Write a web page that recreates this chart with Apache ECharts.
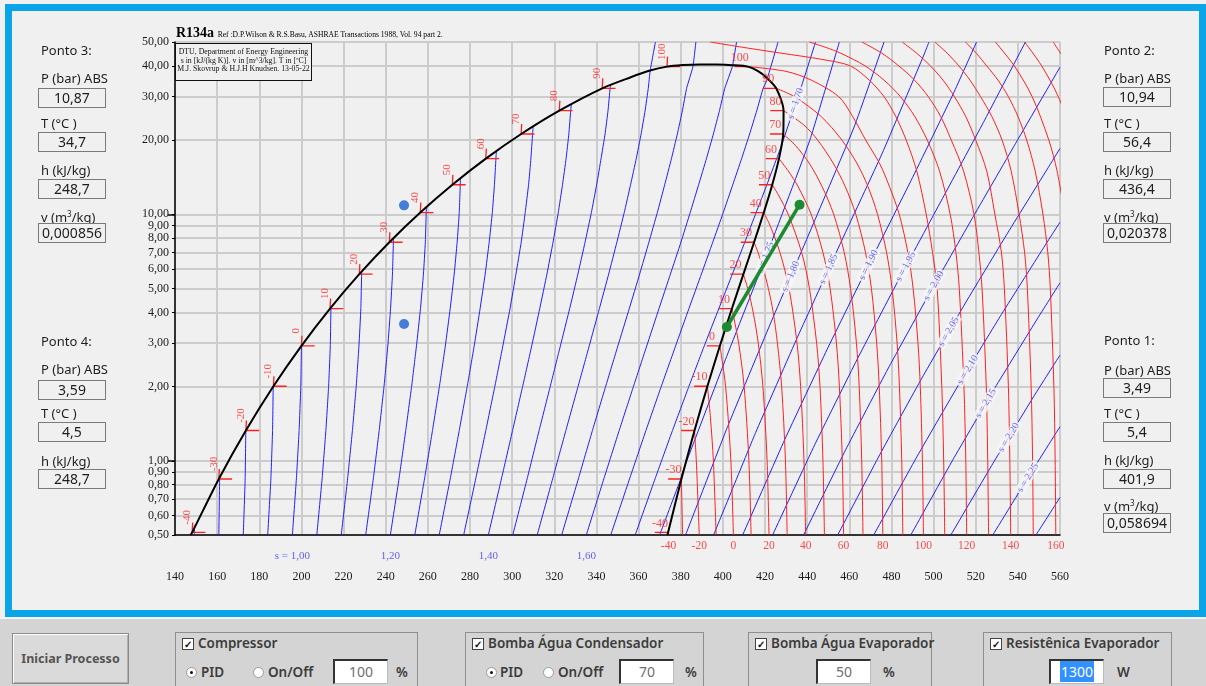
<!DOCTYPE html>
<html>
<head>
<meta charset="utf-8">
<title>R134a</title>
<script src="https://cdn.jsdelivr.net/npm/echarts@6.0.0/dist/echarts.min.js"></script>
<style>
html,body{margin:0;padding:0;}
body{width:1206px;height:686px;background:#f0f0f0;position:relative;overflow:hidden;font-family:"Noto Sans",sans-serif;color:#1e1e1e;}
#frame{position:absolute;left:5px;top:4px;width:1187px;height:599px;border:7px solid #0aa4e8;z-index:0;}
#chart{position:absolute;left:0;top:0;width:1206px;height:686px;z-index:1;}
.ov{position:absolute;z-index:3;white-space:nowrap;}
.lbl{position:absolute;z-index:3;font-size:13px;line-height:16px;white-space:nowrap;}
.box{position:absolute;z-index:3;width:66px;height:18px;border:1px solid #7a7a7a;text-align:center;font-size:14px;line-height:18px;background:#f0f0f0;}
sup{font-size:8px;vertical-align:5px;line-height:0;}
#bottom{position:absolute;left:0;top:618px;width:1206px;height:68px;background:#d4d4d4;border-top:1px solid #f6f6f6;z-index:3;}
.btn{position:absolute;left:12px;top:14px;width:115px;height:49px;border:1px solid #8a8a8a;box-shadow:inset 1px 1px 0 #fdfdfd, inset -1px -1px 0 #b0b0b0;background:#dadada;font-weight:700;font-size:12.5px;color:#555;text-align:center;line-height:49px;}
.grp{position:absolute;top:13px;height:60px;border:1px solid #8e8e8e;}
.t{position:absolute;font-weight:600;font-size:13.5px;color:#3c3c3c;line-height:16px;white-space:nowrap;}
.chk{position:absolute;width:10px;height:10px;border:1px solid #444;background:#fff;font-size:10px;line-height:10px;text-align:center;font-weight:700;color:#111;}
.rad{position:absolute;width:9px;height:9px;border:1px solid #9a9a9a;border-radius:50%;background:#fff;}
.rad.on::after{content:"";position:absolute;left:3px;top:3px;width:3px;height:3px;border-radius:50%;background:#111;}
.inp{position:absolute;height:22px;background:#fff;border-top:2px solid #333;border-left:2px solid #333;border-right:1px solid #bbb;border-bottom:1px solid #bbb;font-size:14px;line-height:22px;text-align:center;color:#707070;}
</style>
</head>
<body>
<div id="frame"></div>
<div id="chart"></div>

<div class="ov" style="left:176px;top:25px;font-family:'Liberation Serif',serif;font-weight:bold;font-size:14px;line-height:16px;color:#000;">R134a <span style="font-weight:normal;font-size:7.6px;">Ref :D.P.Wilson &amp; R.S.Basu, ASHRAE Transactions 1988, Vol. 94 part 2.</span></div>
<div class="ov" style="left:175px;top:43px;width:135px;height:32px;border:1.5px solid #111;background:#f0f0f0;font-family:'Liberation Serif',serif;font-size:7.8px;line-height:8.7px;text-align:center;padding-top:4px;color:#111;">DTU, Department of Energy Engineering<br>s in [kJ/(kg K)]. v in [m^3/kg]. T in [ºC]<br>M.J. Skovrup &amp; H.J.H Knudsen. 13-05-22</div>

<!-- Ponto 3 -->
<div class="lbl" style="left:41px;top:42px;">Ponto 3:</div>
<div class="lbl" style="left:41px;top:70px;">P (bar) ABS</div>
<div class="box" style="left:38px;top:88px;">10,87</div>
<div class="lbl" style="left:41px;top:115px;">T (°C )</div>
<div class="box" style="left:38px;top:132px;">34,7</div>
<div class="lbl" style="left:41px;top:162px;">h (kJ/kg)</div>
<div class="box" style="left:38px;top:179px;">248,7</div>
<div class="lbl" style="left:41px;top:209px;">v (m<sup>3</sup>/kg)</div>
<div class="box" style="left:38px;top:223px;">0,000856</div>
<!-- Ponto 4 -->
<div class="lbl" style="left:41px;top:333px;">Ponto 4:</div>
<div class="lbl" style="left:41px;top:361px;">P (bar) ABS</div>
<div class="box" style="left:38px;top:380px;">3,59</div>
<div class="lbl" style="left:41px;top:405px;">T (°C )</div>
<div class="box" style="left:38px;top:422px;">4,5</div>
<div class="lbl" style="left:41px;top:453px;">h (kJ/kg)</div>
<div class="box" style="left:38px;top:469px;">248,7</div>
<!-- Ponto 2 -->
<div class="lbl" style="left:1104px;top:42px;">Ponto 2:</div>
<div class="lbl" style="left:1104px;top:70px;">P (bar) ABS</div>
<div class="box" style="left:1103px;top:87px;">10,94</div>
<div class="lbl" style="left:1104px;top:115px;">T (°C )</div>
<div class="box" style="left:1103px;top:132px;">56,4</div>
<div class="lbl" style="left:1104px;top:162px;">h (kJ/kg)</div>
<div class="box" style="left:1103px;top:179px;">436,4</div>
<div class="lbl" style="left:1104px;top:209px;">v (m<sup>3</sup>/kg)</div>
<div class="box" style="left:1103px;top:223px;">0,020378</div>
<!-- Ponto 1 -->
<div class="lbl" style="left:1104px;top:332px;">Ponto 1:</div>
<div class="lbl" style="left:1104px;top:362px;">P (bar) ABS</div>
<div class="box" style="left:1103px;top:378px;">3,49</div>
<div class="lbl" style="left:1104px;top:405px;">T (°C )</div>
<div class="box" style="left:1103px;top:422px;">5,4</div>
<div class="lbl" style="left:1104px;top:452px;">h (kJ/kg)</div>
<div class="box" style="left:1103px;top:469px;">401,9</div>
<div class="lbl" style="left:1104px;top:498px;">v (m<sup>3</sup>/kg)</div>
<div class="box" style="left:1103px;top:513px;">0,058694</div>

<div id="bottom">
  <div class="btn">Iniciar Processo</div>
  <div class="grp" style="left:175px;width:241px;">
    <div class="chk" style="left:6px;top:5px;">✓</div>
    <div class="t" style="left:22px;top:2px;">Compressor</div>
    <div class="rad on" style="left:10px;top:34px;"></div>
    <div class="t" style="left:25px;top:31px;">PID</div>
    <div class="rad" style="left:77px;top:34px;"></div>
    <div class="t" style="left:92px;top:31px;">On/Off</div>
    <div class="inp" style="left:157px;top:26px;width:52px;">100</div>
    <div class="t" style="left:220px;top:31px;">%</div>
  </div>
  <div class="grp" style="left:465px;width:237px;">
    <div class="chk" style="left:6px;top:5px;">✓</div>
    <div class="t" style="left:22px;top:2px;">Bomba Água Condensador</div>
    <div class="rad on" style="left:20px;top:34px;"></div>
    <div class="t" style="left:34px;top:31px;">PID</div>
    <div class="rad" style="left:77px;top:34px;"></div>
    <div class="t" style="left:92px;top:31px;">On/Off</div>
    <div class="inp" style="left:153px;top:26px;width:52px;">70</div>
    <div class="t" style="left:219px;top:31px;">%</div>
  </div>
  <div class="grp" style="left:748px;width:182px;">
    <div class="chk" style="left:6px;top:5px;">✓</div>
    <div class="t" style="left:22px;top:2px;">Bomba Água Evaporador</div>
    <div class="inp" style="left:67px;top:26px;width:52px;">50</div>
    <div class="t" style="left:134px;top:31px;">%</div>
  </div>
  <div class="grp" style="left:983px;width:187px;">
    <div class="chk" style="left:6px;top:5px;">✓</div>
    <div class="t" style="left:22px;top:2px;">Resistênica Evaporador</div>
    <div class="inp" style="left:65px;top:26px;width:52px;color:#fff;"><span style="background:#3390ff;padding:1px 1px;">1300</span></div>
    <div class="t" style="left:133px;top:31px;">W</div>
  </div>
</div>

<script>
// ===================== DATA =====================
// axis ticks
const hMin = 140, hMax = 560, hStep = 20;
const pTicks = [0.5, 0.6, 0.7, 0.8, 0.9, 1, 2, 3, 4, 5, 6, 7, 8, 9, 10, 20, 30, 40, 50];
const pLongTicks = [1, 10];

// saturation table (T in °C, P in bar, h in kJ/kg)
const satT  = [-40, -30, -20, -10, 0, 10, 20, 30, 40, 50, 60, 70, 80, 90, 100];
const satP  = [0.5121, 0.8438, 1.3273, 2.006, 2.928, 4.1461, 5.7171, 7.702, 10.166, 13.179, 16.818, 21.168, 26.332, 32.442, 39.724];
const satHf = [148.14, 160.79, 173.64, 186.70, 200.00, 213.58, 227.47, 241.72, 256.41, 271.62, 287.50, 304.28, 322.39, 342.75, 373.5];
const satHg = [374.00, 380.32, 386.55, 392.66, 398.60, 404.32, 409.75, 414.82, 419.43, 423.44, 426.63, 428.65, 428.81, 425.32, 411.83];

// saturation dome (liquid side up to the critical point, then vapour side down)
const domeH = [147.3, 148.14, 160.79, 173.64, 186.70, 200.00, 213.58, 227.47, 241.72, 256.41, 271.62, 287.50, 304.28, 322.39, 342.75, 356.0, 365.0, 373.5, 381.0, 389.0,
               397.0, 404.5, 411.83, 416.5, 420.5, 425.32, 428.81, 428.65, 426.63, 423.44, 419.43, 414.82, 409.75, 404.32, 398.60, 392.66, 386.55, 380.32, 374.00, 373.7];
const domeP = [0.5, 0.5121, 0.8438, 1.3273, 2.006, 2.928, 4.1461, 5.7171, 7.702, 10.166, 13.179, 16.818, 21.168, 26.332, 32.442, 35.9, 38.2, 39.724, 40.3, 40.55,
               40.5, 40.25, 39.724, 38.2, 36.0, 32.442, 26.332, 21.168, 16.818, 13.179, 10.166, 7.702, 5.7171, 4.1461, 2.928, 2.006, 1.3273, 0.8438, 0.5121, 0.5];

// isotherms in the superheated / supercritical region: [h, P]
const isoT = [-40, -30, -20, -10, 0, 10, 20, 30, 40, 50, 60, 70, 80, 90, 100, 110, 120, 130, 140, 150, 160, 170, 180, 190];
const isoCurves = [
  [[374.2,0.5],[374.0,0.5121]],
  [[380.9,0.5],[380.32,0.8438]],
  [[388.8,0.5],[387.4,1],[386.55,1.3273]],
  [[396.8,0.5],[395.5,1],[394.1,1.5],[392.66,2.006]],
  [[405.0,0.5],[403.8,1],[401.3,2],[398.6,2.928]],
  [[413.4,0.5],[412.35,1],[410.1,2],[407.5,3],[404.7,4],[404.32,4.1461]],
  [[421.9,0.5],[421.0,1],[419.0,2],[416.8,3],[414.4,4],[411.8,5],[409.75,5.7171]],
  [[430.5,0.5],[429.7,1],[427.9,2],[425.9,3],[423.9,4],[421.6,5],[419.2,6],[416.7,7],[414.82,7.702]],
  [[439.3,0.5],[438.5,1],[436.9,2],[435.2,3],[431.4,5],[427.1,7],[422.4,9],[419.43,10.166]],
  [[448.2,0.5],[447.5,1],[446.1,2],[444.5,3],[441.1,5],[437.4,7],[431.0,10],[426.3,12],[423.44,13.179]],
  [[457.3,0.5],[456.7,1],[455.3,2],[453.9,3],[450.9,5],[447.5,7],[441.9,10],[435.6,13],[431.0,15],[426.63,16.818]],
  [[466.5,0.5],[465.9,1],[464.7,2],[463.4,3],[460.6,5],[457.6,7],[452.6,10],[447.0,13],[441.2,16],[434.5,19],[428.65,21.168]],
  [[475.9,0.5],[475.4,1],[474.2,2],[473.0,3],[470.5,5],[467.7,7],[463.1,10],[458.0,13],[452.6,16],[445.0,20],[438.5,23],[428.81,26.332]],
  [[485.4,0.5],[484.9,1],[483.8,2],[482.7,3],[480.3,5],[477.7,7],[473.4,10],[468.8,13],[463.8,16],[456.5,20],[446.5,25],[434,30],[425.32,32.442]],
  [[495.2,0.5],[494.7,1],[493.7,2],[492.6,3],[490.3,5],[487.8,7],[483.7,10],[479,13],[474.5,16],[467.8,20],[461.5,25],[455,30],[442,35],[430,38],[411.83,39.724]],
  [[505.3,0.5],[504.8,1],[503.9,2],[501.7,5],[499.5,7],[496.5,10],[492,15],[487,20],[482,25],[476.5,30],[469.5,35],[460.5,40],[447,42.5],[428,45],[410,47.5],[394,50]],
  [[515.7,0.5],[515.3,1],[514.4,2],[512.2,5],[510.6,7],[507.9,10],[502.8,15],[497.0,20],[491,25],[484.3,30],[476.5,35],[467.5,40],[456,45],[449,47.5],[441,50]],
  [[526.1,0.5],[525.7,1],[525,2],[523,5],[521.5,7],[519.2,10],[514.2,15],[508.4,20],[503.3,25],[497.5,30],[491,35],[483.5,40],[475.5,45],[466,50]],
  [[536.6,0.5],[536.2,1],[535.5,2],[533.6,5],[532.2,7],[529.1,10],[525.2,15],[520.0,20],[515.2,25],[509.9,30],[504.5,35],[498.5,40],[492.0,45],[485.1,50]],
  [[547.3,0.5],[547,1],[546.3,2],[544.5,5],[543.2,7],[540.6,10],[536.8,15],[532.5,20],[527.6,25],[522.3,30],[517.3,35],[512.0,40],[506.5,45],[500.6,50]],
  [[558.0,0.5],[557.7,1],[557.1,2],[555.4,5],[554.2,7],[551.9,10],[548.2,15],[544.2,20],[540.0,25],[535.5,30],[530.6,35],[525.2,40],[520.3,45],[515.1,50]],
  [[562.2,10],[558.6,15],[554.7,20],[546.8,30],[538.3,40],[529.3,50]],
  [[567.0,20],[559.2,30],[551.3,40],[543.2,50]],
  [[565.0,40],[560.3,45],[556.8,50]]
];

// isentropes s [kJ/(kg K)]: [h, P]
const isenS = [0.80, 0.85, 0.90, 0.95, 1.00, 1.05, 1.10, 1.15, 1.20, 1.25, 1.30, 1.35, 1.40, 1.45, 1.50, 1.55, 1.60, 1.65, 1.70, 1.75,
               1.80, 1.85, 1.90, 1.95, 2.00, 2.05, 2.10, 2.15, 2.20, 2.25, 2.30];
const isenLines = [
  [[149.2,0.5],[149.2,0.549]],
  [[160.8,0.5],[161.2,0.858]],
  [[172.4,0.5],[173.3,0.8438],[173.6,1.3273]],
  [[184.0,0.5],[185.5,0.8438],[186.3,1.3273],[186.6,2.0]],
  [[195.7,0.5],[197.6,0.8438],[198.9,1.3273],[199.7,2.006],[200.0,2.928]],
  [[207.3,0.5],[209.8,0.8438],[211.6,1.3273],[212.9,2.006],[213.7,2.928],[214.0,4.17]],
  [[218.9,0.5],[221.9,0.8438],[224.2,1.3273],[226.0,2.006],[227.3,2.928],[228.2,4.146],[228.6,5.87]],
  [[230.5,0.5],[234.1,0.8438],[236.9,1.3273],[239.2,2.006],[241.0,2.928],[242.3,4.146],[243.2,5.717],[243.7,8.03]],
  [[242.2,0.5],[246.3,0.8438],[249.5,1.3273],[252.3,2.006],[254.6,2.928],[256.5,4.146],[257.9,5.717],[258.8,7.702],[259.3,10.75]],
  [[253.8,0.5],[258.4,0.8438],[262.2,1.3273],[265.5,2.006],[268.3,2.928],[270.6,4.146],[272.5,5.717],[273.9,7.702],[274.9,10.166],[275.5,14.07]],
  [[265.4,0.5],[270.6,0.8438],[274.9,1.3273],[278.7,2.006],[282.0,2.928],[284.8,4.146],[287.2,5.717],[289.1,7.702],[290.6,10.166],[291.6,13.179],[292.3,16.818],[292.5,18.1]],
  [[277.0,0.5],[282.7,0.8438],[287.5,1.3273],[291.8,2.006],[295.6,2.928],[299.0,4.146],[301.8,5.717],[304.3,7.702],[306.2,10.166],[307.8,13.179],[308.9,16.818],[309.7,21.168],[310.0,22.79]],
  [[288.7,0.5],[294.9,0.8438],[300.2,1.3273],[305.0,2.006],[309.3,2.928],[313.1,4.146],[316.5,5.717],[319.4,7.702],[321.9,10.166],[323.9,13.179],[325.6,16.818],[326.9,21.168],[327.8,26.332],[328.1,28.03]],
  [[300.3,0.5],[307.1,0.8438],[312.8,1.3273],[318.1,2.006],[322.9,2.928],[327.3,4.146],[331.2,5.717],[334.6,7.702],[337.6,10.166],[340.1,13.179],[342.2,16.818],[344.1,21.168],[345.5,26.332],[346.5,32.442],[346.8,33.58]],
  [[311.9,0.5],[319.2,0.8438],[325.5,1.3273],[331.3,2.006],[336.6,2.928],[341.4,4.146],[345.8,5.717],[349.7,7.702],[353.2,10.166],[356.2,13.179],[358.9,16.818],[361.2,21.168],[363.1,26.332],[364.6,32.442],[365.5,38.2],[368.0,50]],
  [[323.5,0.5],[331.4,0.8438],[338.1,1.3273],[344.4,2.006],[350.2,2.928],[355.6,4.146],[360.5,5.717],[364.9,7.702],[368.9,10.166],[372.4,13.179],[375.6,16.818],[378.4,21.168],[380.8,26.332],[382.8,32.442],[385.8,39.724],[387.2,50]],
  [[335.2,0.5],[343.5,0.8438],[350.8,1.3273],[357.6,2.006],[363.9,2.928],[369.7,4.146],[375.1,5.717],[380.1,7.702],[384.5,10.166],[388.5,13.179],[392.2,16.818],[395.5,21.168],[398.4,26.332],[400.9,32.442],[404.5,39.724],[406.5,50]],
  [[346.8,0.5],[355.7,0.8438],[363.5,1.3273],[370.8,2.006],[377.6,2.928],[383.9,4.146],[389.8,5.717],[395.2,7.702],[400.2,10.166],[404.7,13.179],[408.9,16.818],[412.7,21.168],[416.1,26.332],[419.1,32.442],[420.8,34.87],[426.2,50]],
  [[358.4,0.5],[367.8,0.8438],[376.1,1.3273],[383.9,2.006],[391.2,2.928],[398.1,4.146],[404.5,5.717],[410.4,7.702],[415.8,10.166],[420.9,13.179],[425.5,16.818],[427.5,18.69],[437.5,33.5],[444.0,50]],
  [[370.0,0.5],[380.0,0.8438],[381.2,0.915],[401.2,2.57],[421.2,7.0],[441.2,19.9],[455.3,50]],
  [[382.3,0.5],[402.3,1.379],[422.3,3.558],[442.3,8.89],[462.3,22.6],[476.5,50]],
  [[395.6,0.5],[415.6,1.304],[435.6,3.20],[455.6,7.56],[475.6,17.66],[495.6,44.7],[497.8,50]],
  [[409.4,0.5],[429.4,1.221],[449.4,2.822],[469.4,6.283],[489.4,13.75],[509.4,30.9],[520.4,50]],
  [[423.6,0.5],[443.6,1.162],[463.6,2.567],[483.6,5.46],[503.6,11.33],[523.6,23.54],[543.6,50]],
  [[438.3,0.5],[458.3,1.11],[478.3,2.357],[498.3,4.82],[518.3,9.61],[538.3,18.98],[560,39.5]],
  [[454.5,0.5],[474.5,1.06],[494.5,2.169],[514.5,4.279],[534.5,8.22],[554.5,15.52],[560,18.5]],
  [[471.6,0.5],[491.6,1.021],[511.6,2.015],[531.6,3.851],[551.6,7.18],[560,9.29]],
  [[489.2,0.5],[509.2,1.011],[529.2,1.982],[549.2,3.762],[560,5.27]],
  [[508.2,0.5],[528.2,0.977],[548.2,1.863],[560,2.684]],
  [[528.1,0.5],[548.1,0.949],[560,1.375]],
  [[548.6,0.5],[560,0.710]]
];

// inline entropy labels (s value, h where label sits on its line)
const shLabelS = [1.70, 1.75, 1.80, 1.85, 1.90, 1.95, 2.00, 2.05, 2.10, 2.15, 2.20, 2.25];
const shLabelH = [434.5, 420.3, 432.2, 450.2, 469.2, 486.8, 500.1, 507.2, 516.2, 524.8, 535.7, 544.8];
// entropy labels written under the axis
const bottomLabelS = [1.00, 1.20, 1.40, 1.60];

// cycle points [h, P]
const ponto1 = [401.9, 3.49];
const ponto2 = [436.4, 10.94];
const ponto3 = [248.7, 10.87];
const ponto4 = [248.7, 3.59];

// ===================== CHART =====================
const SERIF = "'Liberation Serif', 'Times New Roman', serif";
const RED = '#ff2020', BLUE = '#1f1fff', LBLUE = '#4a4ae6';
const lg = Math.log10;
const fmtP = v => Math.pow(10, v).toFixed(2).replace('.', ',');
const fmtS = s => s.toFixed(2).replace('.', ',');
const toXY = pts => pts.map(p => [p[0], lg(p[1])]);
const rotOff = (gx, gy, deg) => { const r = deg * Math.PI / 180; return [gx * Math.cos(r) - gy * Math.sin(r), gx * Math.sin(r) + gy * Math.cos(r)]; };

const series = [];
function addLine(pts, color, width, smooth, z) {
  series.push({ type: 'line', data: toXY(pts), showSymbol: false, symbol: 'none', smooth: smooth,
    lineStyle: { color: color, width: width }, silent: true, z: z, animation: false, clip: true });
}
function addLabels(items, z, id) {
  const s = { type: 'scatter', data: items, symbolSize: 1, itemStyle: { color: 'rgba(0,0,0,0)' },
    silent: true, clip: false, z: z, animation: false };
  if (id) s.id = id;
  series.push(s);
}
function lbl(h, P, text, opt) {
  return { value: [h, lg(P)], label: Object.assign({ show: true, formatter: text, position: 'inside', fontFamily: SERIF }, opt) };
}

// isentropes
isenLines.forEach(l => addLine(l, BLUE, 1, 0.12, 2));
// superheated isotherms
isoCurves.forEach(c => addLine(c, RED, 1, 0.3, 3));
// two-phase isotherm marks at the saturation lines
satT.forEach((t, i) => {
  addLine([[satHf[i] + 0.25, satP[i] * 1.098], [satHf[i], satP[i]], [satHf[i] + 6.3, satP[i]]], RED, 1.3, false, 4);
  addLine([[satHg[i] - 6.3, satP[i]], [satHg[i], satP[i]]], RED, 1.3, false, 4);
});
// saturation dome
const dome = domeH.map((h, i) => [h, domeP[i]]);
addLine(dome, '#000', 2, 0.25, 6);

// isotherm labels
const liqLab = [], vapLab = [], botT = [];
satT.forEach((t, i) => {
  liqLab.push(lbl(satHf[i], satP[i], String(t), { rotate: 90, offset: rotOff(-5, -15, 90), color: RED, fontSize: 11 }));
  vapLab.push(lbl(satHg[i], satP[i], String(t), { offset: [-8, -9], color: RED, fontSize: 12 }));
});
isoT.forEach((t, i) => {
  const p0 = isoCurves[i][0];
  if (t % 20 === 0 && p0[1] === 0.5) botT.push(lbl(p0[0], p0[1], String(t), { offset: [0, 11], color: RED, fontSize: 11.5 }));
});
addLabels(liqLab, 8); addLabels(vapLab, 8); addLabels(botT, 8);

// entropy labels under the axis
const botS = bottomLabelS.map((s, k) => {
  const l = isenLines[isenS.findIndex(v => Math.abs(v - s) < 1e-6)];
  return lbl(l[0][0], l[0][1], (k === 0 ? 's = ' : '') + fmtS(s), { offset: [0, 21], color: '#3b3bff', fontSize: 11 });
});
addLabels(botS, 8);

// inline superheated entropy labels (rotation fixed after first layout)
function onLine(s, h) {
  const pts = toXY(isenLines[isenS.findIndex(v => Math.abs(v - s) < 1e-6)]);
  for (let i = 0; i < pts.length - 1; i++) {
    const a = pts[i], b = pts[i + 1];
    if ((h - a[0]) * (h - b[0]) <= 0) { const t = (h - a[0]) / (b[0] - a[0]); return { y: a[1] + t * (b[1] - a[1]), a: a, b: b }; }
  }
  return { y: pts[pts.length - 1][1], a: pts[pts.length - 2], b: pts[pts.length - 1] };
}
function shItems(rot) {
  return shLabelS.map((s, k) => {
    const o = onLine(s, shLabelH[k]);
    return { value: [shLabelH[k], o.y], label: { show: true, position: 'inside', formatter: 's = ' + fmtS(s), rotate: rot ? rot[k] : 62,
      color: LBLUE, fontSize: 10, fontFamily: SERIF, backgroundColor: '#f6f6f6', padding: [0, 2] } };
  });
}
addLabels(shItems(null), 9, 'shlab');

// cycle
series.push({ type: 'line', data: toXY([ponto1, ponto2]), symbol: 'circle', symbolSize: 10, showSymbol: true,
  lineStyle: { color: '#1c8a30', width: 3.5 }, itemStyle: { color: '#1c8a30' }, silent: true, z: 12, animation: false });
series.push({ type: 'scatter', data: toXY([ponto3, ponto4]), symbolSize: 10, itemStyle: { color: '#1a5fd0' }, silent: true, z: 12, animation: false });

const chart = echarts.init(document.getElementById('chart'), null, { renderer: 'canvas' });
const option = {
  backgroundColor: 'transparent',
  animation: false,
  textStyle: { fontFamily: SERIF },
  grid: { left: 175, top: 42, width: 885, height: 493, containLabel: false },
  xAxis: {
    type: 'value', min: hMin, max: hMax, interval: hStep,
    axisLine: { show: true, onZero: false, lineStyle: { color: '#000', width: 1.5 } },
    axisTick: { show: false },
    axisLabel: { margin: 36, color: '#1a1a1a', fontSize: 12, fontFamily: SERIF, showMinLabel: true, showMaxLabel: true },
    splitLine: { show: true, lineStyle: { color: '#cccccc', width: 2 } }
  },
  yAxis: [{
    type: 'value', min: lg(0.5), max: lg(50),
    axisLine: { show: true, onZero: false, lineStyle: { color: '#000', width: 1.5 } },
    axisTick: { show: true, customValues: pTicks.map(lg), length: 3, lineStyle: { color: '#000' } },
    axisLabel: { customValues: pTicks.map(lg), formatter: fmtP, margin: 6, color: '#1a1a1a', fontSize: 12, fontFamily: SERIF },
    splitLine: { show: true, lineStyle: { color: '#cccccc', width: 2 } }
  }, {
    type: 'value', min: lg(0.5), max: lg(50), position: 'left',
    axisLine: { show: false, onZero: false },
    axisTick: { show: true, customValues: pLongTicks.map(lg), length: 7, lineStyle: { color: '#000', width: 1.5 } },
    axisLabel: { show: false },
    splitLine: { show: false }
  }],
  series: series
};
chart.setOption(option);

// orient the inline entropy labels along their lines
const rots = shLabelS.map((s, k) => {
  const o = onLine(s, shLabelH[k]);
  const pa = chart.convertToPixel({ gridIndex: 0 }, o.a), pb = chart.convertToPixel({ gridIndex: 0 }, o.b);
  return Math.atan2(-(pb[1] - pa[1]), pb[0] - pa[0]) * 180 / Math.PI;
});
chart.setOption({ series: [{ id: 'shlab', data: shItems(rots) }] });
</script>
</body>
</html>
